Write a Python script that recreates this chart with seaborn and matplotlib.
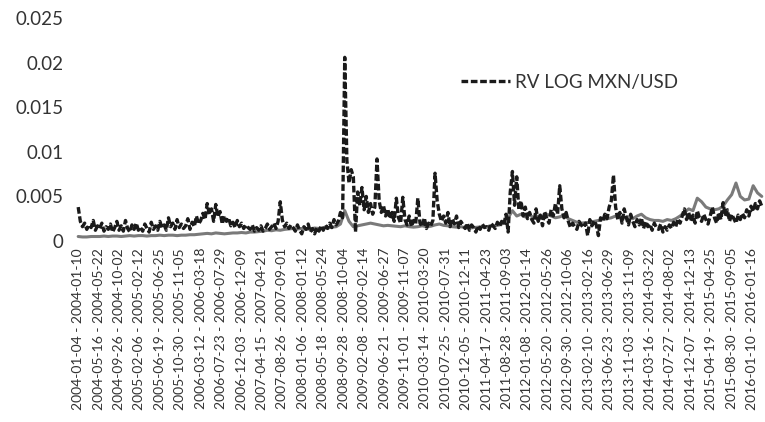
import matplotlib
matplotlib.use("Agg")
import matplotlib.pyplot as plt
from matplotlib.ticker import FuncFormatter
import seaborn as sns
import pandas as pd
import numpy as np

# weekly axis: week 0 = 2004-01-04, tick every 19 weeks
tick_starts = ["2004-01-04", "2004-05-16", "2004-09-26", "2005-02-06", "2005-06-19",
               "2005-10-30", "2006-03-12", "2006-07-23", "2006-12-03", "2007-04-15",
               "2007-08-26", "2008-01-06", "2008-05-18", "2008-09-28", "2009-02-08",
               "2009-06-21", "2009-11-01", "2010-03-14", "2010-07-25", "2010-12-05",
               "2011-04-17", "2011-08-28", "2012-01-08", "2012-05-20", "2012-09-30",
               "2013-02-10", "2013-06-23", "2013-11-03", "2014-03-16", "2014-07-27",
               "2014-12-07", "2015-04-19", "2015-08-30", "2016-01-10"]

# RV LOG MXN/USD, every 2nd week (x 1e-3)
rv_log = [3.8, 2.2, 1.6, 2.0, 1.3, 1.8, 1.5, 2.3, 1.2, 1.7,
          1.4, 2.0, 1.1, 1.6, 1.3, 1.9, 1.0, 1.5, 2.2, 1.2,
          1.7, 1.1, 2.3, 1.4, 1.0, 1.8, 1.3, 2.0, 1.2, 1.5,
          1.1, 1.9, 1.4, 1.0, 2.1, 1.3, 1.7, 1.2, 2.2, 1.5,
          1.8, 1.2, 2.6, 1.6, 2.0, 1.3, 2.4, 1.5, 1.9, 1.4,
          1.7, 2.5, 1.3, 2.1, 1.6, 2.8, 1.9, 2.3, 3.1, 2.4,
          4.2, 3.0, 3.6, 2.2, 4.1, 2.7, 3.3, 1.9, 2.8, 2.2,
          2.6, 1.7, 2.1, 1.5, 2.3, 1.6, 2.0, 1.4, 1.8, 1.5,
          1.3, 1.8, 1.1, 1.5, 1.2, 1.7, 1.1, 1.4, 1.9, 1.3,
          1.6, 2.0, 1.4, 2.2, 4.4, 2.3, 1.6, 2.0, 1.4, 1.8,
          1.5, 1.1, 1.8, 1.2, 0.8, 1.6, 1.3, 1.9, 1.0, 1.4,
          0.8, 1.5, 1.1, 1.7, 1.2, 1.8, 1.4, 2.0, 1.5, 2.4,
          1.8, 2.2, 3.2, 2.6, 20.6, 9.0, 6.5, 8.0, 7.2, 1.0,
          5.5, 4.0, 6.0, 3.5, 5.0, 3.2, 4.2, 3.0, 3.8, 9.2,
          4.5, 3.2, 4.0, 2.8, 3.6, 2.5, 3.2, 2.2, 4.8, 2.6,
          2.0, 4.9, 2.4, 1.8, 2.8, 1.6, 2.3, 1.9, 4.8, 2.0,
          1.6, 2.6, 1.4, 2.0, 1.7, 2.3, 7.6, 4.5, 3.0, 2.2,
          2.8, 2.0, 3.2, 1.6, 2.5, 1.9, 2.8, 1.5, 2.2, 1.8,
          1.4, 2.0, 1.2, 1.8, 1.5, 1.0, 1.7, 1.3, 1.9, 1.5,
          1.6, 1.2, 2.0, 1.7, 1.4, 2.1, 1.6, 2.2, 1.8, 3.0,
          1.0, 5.5, 7.8, 4.0, 7.2, 3.5, 4.5, 2.8, 3.8, 2.5,
          3.2, 2.4, 2.0, 3.6, 2.2, 2.9, 1.7, 3.3, 2.5, 2.0,
          3.5, 2.8, 4.2, 3.0, 6.2, 3.6, 2.6, 3.2, 2.2, 1.5,
          2.0, 1.6, 1.3, 2.2, 1.8, 1.5, 2.0, 0.6, 2.4, 1.7,
          2.3, 1.8, 0.6, 2.6, 2.2, 3.0, 2.5, 3.8, 4.5, 7.4,
          3.8, 2.4, 3.2, 2.0, 3.6, 2.6, 1.8, 3.0, 2.2, 1.6,
          2.4, 1.8, 2.6, 1.4, 2.2, 1.6, 1.9, 1.2, 2.0, 1.5,
          1.3, 1.9, 1.0, 1.6, 1.2, 1.8, 1.4, 2.1, 1.6, 2.5,
          2.0, 2.8, 3.6, 2.4, 3.2, 2.2, 2.9, 2.0, 3.4, 2.6,
          2.2, 3.0, 2.4, 1.9, 2.8, 3.8, 2.6, 2.0, 3.2, 2.4,
          4.3, 2.8, 3.5, 2.2, 3.0, 2.5, 2.0, 2.9, 2.4, 3.1,
          2.6, 3.5, 2.8, 3.9, 3.3, 4.2, 3.6, 4.5, 3.9]

# second (grey) series, every 4th week (x 1e-3)
grey_series = [0.5, 0.45, 0.45, 0.5, 0.5, 0.5, 0.55, 0.5, 0.55, 0.55,
               0.5, 0.55, 0.6, 0.55, 0.6, 0.6, 0.55, 0.6, 0.6, 0.65,
               0.6, 0.65, 0.65, 0.6, 0.65,
               0.65, 0.7, 0.7, 0.75, 0.8, 0.85, 0.8, 0.9, 0.85, 0.8,
               0.85, 0.9, 0.9, 0.95, 0.9, 1.0, 1.0, 1.05, 1.1, 1.2,
               1.15, 1.25, 1.2, 1.3, 1.35,
               1.4, 1.35, 1.4, 1.3, 1.35, 1.45, 1.4, 1.5, 1.45, 1.55,
               1.6, 1.9, 3.4, 2.2, 1.6, 1.7, 1.8, 1.9, 2.0, 1.9,
               1.8, 1.7, 1.75, 1.7, 1.65,
               1.6, 1.7, 1.6, 1.55, 1.6, 1.7, 1.6, 1.65, 1.8, 1.9,
               1.75, 1.7, 1.6, 1.55, 1.6, 1.5, 1.45, 1.5, 1.55, 1.6,
               1.6, 1.65, 1.7, 1.8, 2.0,
               2.6, 3.4, 2.8, 3.0, 2.7, 2.9, 2.6, 2.8, 2.7, 3.0,
               2.8, 2.6, 2.7, 2.9, 2.5, 2.3, 2.1, 2.0, 2.05, 2.1,
               2.2, 2.3, 2.4, 2.5, 2.6,
               2.8, 2.7, 2.6, 2.7, 2.5, 2.8, 3.0, 2.6, 2.4, 2.3,
               2.3, 2.2, 2.4, 2.3, 2.5, 2.8, 3.2, 3.6, 3.4, 4.8,
               4.4, 3.8, 3.6, 3.5, 3.6,
               3.9, 4.6, 5.2, 6.5, 5.0, 4.6, 4.7, 6.2, 5.4, 5.0]

rv_df = pd.DataFrame({"week": np.arange(len(rv_log)) * 2,
                      "value": np.array(rv_log) / 1000})
grey_df = pd.DataFrame({"week": np.arange(len(grey_series)) * 4,
                        "value": np.array(grey_series) / 1000})

tick_labels = []
for s in tick_starts:
    d = pd.Timestamp(s)
    tick_labels.append(f"{d:%Y-%m-%d} - {d + pd.Timedelta(days=6):%Y-%m-%d}")

sns.set_style("white")
plt.rcParams["font.family"] = ["Lato", "DejaVu Sans"]

fig = plt.figure(figsize=(7.65, 4.22), dpi=100)
ax = fig.add_axes([0.098, 0.429, 0.902, 0.528])

sns.lineplot(data=grey_df, x="week", y="value", ax=ax, color="#7a7a7a",
             linewidth=2.2, legend=False)
sns.lineplot(data=rv_df, x="week", y="value", ax=ax, color="#1a1a1a",
             linewidth=2.4, label="RV LOG MXN/USD")
ax.lines[1].set_dashes((2.0, 0.8))

ax.set_ylim(0, 0.025)
ax.set_yticks([0, 0.005, 0.01, 0.015, 0.02, 0.025])
ax.yaxis.set_major_formatter(FuncFormatter(lambda v, p: f"{v:g}"))
ax.set_xlim(-3, 639)
ax.set_xticks(np.arange(len(tick_labels)) * 19)
ax.set_xticklabels(tick_labels, rotation=90, fontsize=10, color="#333333")
ax.tick_params(axis="y", labelsize=13.5, labelcolor="#333333", length=0, pad=8)
ax.tick_params(axis="x", length=0, pad=5)
ax.set_xlabel("")
ax.set_ylabel("")
for sp in ax.spines.values():
    sp.set_visible(False)

leg = ax.legend(loc="center left", bbox_to_anchor=(0.535, 0.713), frameon=False,
                fontsize=13.5, handlelength=2.6, handletextpad=0.3)
for t in leg.get_texts():
    t.set_color("#333333")

fig.savefig("out.png", dpi=100)
